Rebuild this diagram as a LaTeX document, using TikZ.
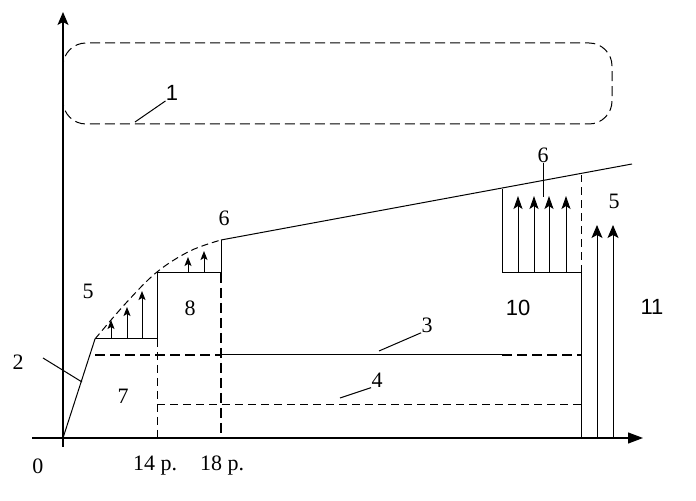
\documentclass[tikz,border=0pt]{standalone}
\usepackage{fontspec}
\setmainfont{Liberation Serif}
\newfontfamily\sansf{Liberation Sans}
\usepackage{tikz}
\usetikzlibrary{arrows.meta}
\tikzstyle{axis}=[draw,line width=0.6pt,-{Triangle[length=7.5pt,width=5.5pt]}]
\tikzstyle{yaxis}=[draw,line width=0.6pt,-{Stealth[length=6.5pt,width=5.5pt,inset=1.5pt]}]
\tikzstyle{thin}=[draw,line width=0.5pt]
\tikzstyle{thindash}=[draw,line width=0.5pt,dash pattern=on 4pt off 2.5pt]
\tikzstyle{thickdash}=[draw,line width=1.1pt,dash pattern=on 5pt off 2.5pt]
\tikzstyle{smallarrow}=[draw,line width=0.5pt,-{Stealth[length=4.5pt,width=3.5pt,inset=1pt]}]
\tikzstyle{midarrow}=[draw,line width=0.5pt,-{Stealth[length=6.5pt,width=4.5pt,inset=1.5pt]}]
\tikzstyle{bigarrow}=[draw,line width=0.5pt,-{Stealth[length=6.5pt,width=5.5pt,inset=1.5pt]}]
\tikzstyle{lbl}=[inner sep=0pt,font=\fontsize{11}{13}\selectfont]

\begin{document}
\begin{tikzpicture}[x=0.5pt,y=-0.5pt]

    \useasboundingbox (0,0) rectangle (696,501);

    % axes
    \draw[yaxis] (63,447) -- (63,12);
    \draw[axis] (32,438) -- (643,438);

    % zone 1
    \draw[thindash,dash pattern=on 5pt off 2.5pt,rounded corners=11.5pt] (63,43) rectangle (612,124);

    % labels
    \foreach \x/\y/\name/\txt in {38/466/l0/0, 155/466/lfour/14 p., 222/466/leight/18 p.,
                                  18/362/l2/2, 427/325/l3/3, 377/380/l4/4,
                                  88/291/l5a/5, 614/201/l5b/5, 224/218/l6a/6, 543/155/l6b/6,
                                  123/396/l7/7, 190/308/l8/8}
        \node[lbl] (\name) at (\x,\y) {\txt};
    \foreach \x/\y/\name/\txt in {172/93/l1/1, 518/308/l10/10, 652/307/l11/11}
        \node[lbl,font=\fontsize{11}{13}\sansf] (\name) at (\x,\y) {\txt};

    % leaders
    \coordinate (c1) at (135,122);
    \coordinate (c2a) at (43,358);
    \coordinate (c2b) at (82,382);
    \coordinate (c3) at (379,351);
    \coordinate (c4) at (340,398);
    \coordinate (c6) at (543,197);
    \draw[thin] (l1.south west) -- (c1);
    \draw[thin] (c2a) -- (c2b);
    \draw[thin] (l3.south west) -- (c3);
    \draw[thin] (l4.south west) -- (c4);
    \draw[thin] (l6b.south) -- (c6);

    % load curve
    \draw[thin] (63,438) -- (95,339);
    \draw[thindash,dash pattern=on 3.5pt off 2pt] plot[smooth,tension=0.6] coordinates {(95,339) (126,303) (157,272) (190,251) (221,240)};
    \draw[thin] (221,240) -- (632,164);

    % steps 7 and 8
    \draw[thin] (95,339) -- (157,339) -- (157,273) -- (221,273);
    \draw[thin] (221,240) -- (221,273);
    \draw[thindash] (157,339) -- (157,438);
    \draw[thickdash] (221,273) -- (221,438);

    % levels 3 and 4
    \draw[thickdash] (95,355) -- (221,355);
    \draw[thin] (221,355) -- (502,355);
    \draw[thickdash] (502,355) -- (581,355);
    \draw[thindash] (157,405) -- (581,405);

    % zone 10
    \draw[thin] (502,189) -- (502,273) -- (581,273) -- (581,438);
    \draw[thindash] (581,273) -- (581,175);

    % arrows
    \foreach \x/\y in {111/320, 127/307, 142/291}
        \draw[smallarrow] (\x,339) -- (\x,\y);
    \foreach \x/\y in {188/257, 204/251}
        \draw[smallarrow] (\x,273) -- (\x,\y);
    \foreach \x in {518, 534, 549, 566}
        \draw[midarrow] (\x,273) -- (\x,196);
    \foreach \x in {597, 613}
        \draw[bigarrow] (\x,438) -- (\x,225);

\end{tikzpicture}
\end{document}
